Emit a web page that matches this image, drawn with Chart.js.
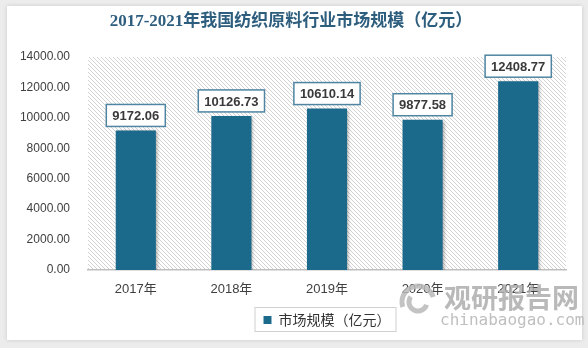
<!DOCTYPE html>
<html>
<head>
<meta charset="utf-8">
<script src="https://cdn.jsdelivr.net/npm/chart.js@4"></script>
<style>
  html, body { margin: 0; padding: 0; background: #ececec; }
  #wrap { width: 588px; height: 348px; position: relative; }
</style>
</head>
<body>
<div id="wrap"><canvas id="marketChart" width="588" height="348"></canvas></div>
<script>
// data
const years = ['2017年', '2018年', '2019年', '2020年', '2021年'];
const marketSize = [9172.06, 10126.73, 10610.14, 9877.58, 12408.77];
const seriesName = '市场规模（亿元）';
const chartTitle = '2017-2021年我国纺织原料行业市场规模（亿元）';

const barColor = '#1b6a8c';
const cjk = '"Noto Sans CJK SC"';

// hatch pattern for plot bg
function makeHatch() {
  const c = document.createElement('canvas');
  c.width = 4; c.height = 4;
  const g = c.getContext('2d');
  g.fillStyle = '#ffffff';
  g.fillRect(0, 0, 4, 4);
  g.strokeStyle = '#d3d3d3';
  g.lineWidth = 1;
  g.beginPath();
  g.moveTo(-1, -1); g.lineTo(5, 5);
  g.moveTo(-1, 3); g.lineTo(1, 5);
  g.moveTo(3, -1); g.lineTo(5, 1);
  g.stroke();
  return c;
}

// card + title + hatch
const backdrop = {
  id: 'backdrop',
  beforeDraw(chart) {
    const ctx = chart.ctx;
    const a = chart.chartArea;
    ctx.save();
    ctx.fillStyle = '#ececec';
    ctx.fillRect(0, 0, chart.width, chart.height);
    ctx.shadowColor = 'rgba(0,0,0,0.15)';
    ctx.shadowBlur = 4;
    ctx.fillStyle = '#ffffff';
    ctx.fillRect(7, 6, 575, 334);
    ctx.shadowColor = 'transparent';
    ctx.fillStyle = ctx.createPattern(makeHatch(), 'repeat');
    ctx.fillRect(a.left, a.top, a.right - a.left, a.bottom - a.top);
    ctx.font = 'bold 17px "Liberation Serif", ' + cjk;
    ctx.fillStyle = '#2e5e7e';
    ctx.textAlign = 'center';
    ctx.textBaseline = 'middle';
    ctx.fillText(chartTitle, 291, 22);
    ctx.restore();
  },
  beforeDatasetsDraw(chart) {
    const ctx = chart.ctx;
    ctx.save();
    ctx.shadowColor = 'rgba(0,0,0,0.3)';
    ctx.shadowBlur = 3;
    ctx.shadowOffsetX = 2;
    ctx.shadowOffsetY = 1;
  },
  afterDatasetsDraw(chart) {
    chart.ctx.restore();
  }
};

// value boxes above bars, legend border, watermark
const extras = {
  id: 'extras',
  afterDraw(chart) {
    const ctx = chart.ctx;
    ctx.save();
    ctx.font = 'bold 13px "Liberation Sans"';
    ctx.textAlign = 'center';
    ctx.textBaseline = 'middle';
    chart.getDatasetMeta(0).data.forEach((bar, i) => {
      const txt = marketSize[i].toFixed(2);
      const w = ctx.measureText(txt).width + 12;
      const h = 22;
      const bottom = bar.y - 4;
      ctx.fillStyle = '#ffffff';
      ctx.fillRect(bar.x - w / 2, bottom - h, w, h);
      ctx.strokeStyle = '#4f85a1';
      ctx.lineWidth = 1.5;
      ctx.strokeRect(bar.x - w / 2, bottom - h, w, h);
      ctx.fillStyle = '#3a3a3a';
      ctx.fillText(txt, bar.x, bottom - h / 2 + 1);
    });

    const hb = chart.legend.legendHitBoxes[0];
    if (hb) {
      ctx.strokeStyle = '#d0d0d0';
      ctx.lineWidth = 1;
      ctx.strokeRect(hb.left - 8.5, hb.top - 5.5, hb.width + 14, hb.height + 10);
    }

    // watermark
    ctx.globalAlpha = 0.85;
    ctx.strokeStyle = '#b8b8b8';
    ctx.lineWidth = 5;
    ctx.beginPath();
    ctx.arc(418, 302, 16, Math.PI * 0.9, Math.PI * 1.9);
    ctx.stroke();
    ctx.beginPath();
    ctx.arc(418, 302, 9, Math.PI * 0.1, Math.PI * 1.2);
    ctx.stroke();
    ctx.textAlign = 'left';
    ctx.fillStyle = '#adadad';
    ctx.font = 'bold 27px ' + cjk;
    ctx.fillText('观研报告网', 444, 298);
    ctx.fillStyle = '#b4b4b4';
    ctx.font = '16px "DejaVu Sans Mono"';
    ctx.fillText('chinabaogao.com', 440, 321);
    ctx.restore();
  }
};

new Chart(document.getElementById('marketChart').getContext('2d'), {
  type: 'bar',
  data: {
    labels: years,
    datasets: [{
      label: seriesName,
      data: marketSize,
      backgroundColor: barColor,
      borderWidth: 0,
      barPercentage: 0.42,
      categoryPercentage: 1
    }]
  },
  options: {
    responsive: false,
    animation: false,
    layout: { padding: { top: 57, left: 10, right: 22, bottom: 11 } },
    plugins: {
      title: { display: false },
      tooltip: { enabled: false },
      legend: {
        position: 'bottom',
        fullSize: false,
        labels: {
          boxWidth: 8,
          boxHeight: 8,
          padding: 10,
          color: '#333333',
          font: { size: 14, family: cjk }
        }
      }
    },
    scales: {
      x: {
        grid: { display: false, drawTicks: false },
        border: { display: true, color: '#bfbfbf', width: 1.5 },
        ticks: { padding: 12, color: '#404040', font: { size: 13, family: '"Liberation Sans", ' + cjk } },
        afterFit: s => { s.height = 33; }
      },
      y: {
        min: 0,
        max: 14000,
        grid: { display: false, drawTicks: false },
        border: { display: false },
        ticks: {
          stepSize: 2000,
          padding: 18,
          color: '#404040',
          font: { size: 12, family: '"Liberation Sans"' },
          callback: v => v.toFixed(2)
        },
        afterFit: s => { s.width = 78; }
      }
    }
  },
  plugins: [backdrop, extras]
});
</script>
</body>
</html>
